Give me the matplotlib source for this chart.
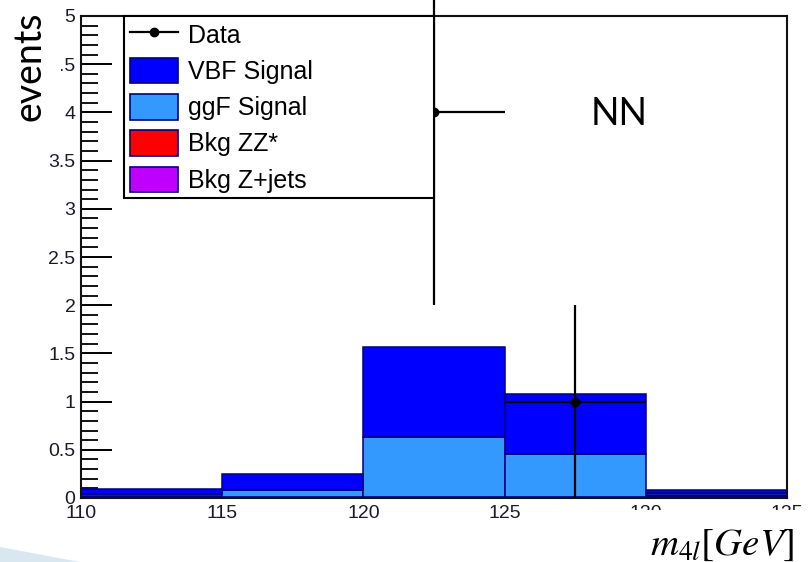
import matplotlib
matplotlib.use("Agg")
import matplotlib.pyplot as plt
from matplotlib.patches import Patch, Polygon, Rectangle
from matplotlib.lines import Line2D
from matplotlib.ticker import MultipleLocator

plt.rcParams["mathtext.fontset"] = "stix"

# Histogram binning (GeV)
bin_edges = [110, 115, 120, 125, 130, 135]
bin_left = bin_edges[:-1]

# Expected yields per bin (stack order bottom -> top)
bkg_zz = [0.01, 0.005, 0.005, 0.005, 0.025]
bkg_zjets = [0.01, 0.005, 0.005, 0.005, 0.005]
ggf_signal = [0.02, 0.07, 0.625, 0.45, 0.02]
vbf_signal = [0.05, 0.17, 0.935, 0.62, 0.03]

# Observed data
data_x = [122.5, 127.5]
data_y = [4, 1]
data_yerr = [2, 1]
data_xerr = [2.5, 2.5]

y_ticks = [0, 0.5, 1, 1.5, 2, 2.5, 3, 3.5, 4, 4.5, 5]
x_ticks = [110, 115, 120, 125, 130, 135]

W, H = 808, 562
fig = plt.figure(figsize=(W / 100, H / 100), dpi=100)
fig.patch.set_facecolor("white")
ax = fig.add_axes([81 / W, 1 - 498 / H, 706 / W, 482 / H])

edge = "#000080"
stack = [
    (bkg_zz, "#ff0000"),
    (bkg_zjets, "#c000ff"),
    (ggf_signal, "#3399ff"),
    (vbf_signal, "#0000ff"),
]
bottom = [0.0] * len(bin_left)
for vals, col in stack:
    ax.bar(bin_left, vals, width=5, bottom=bottom, align="edge",
           color=col, edgecolor=edge, linewidth=1.1, zorder=2)
    bottom = [b + v for b, v in zip(bottom, vals)]

ax.axhline(0, color=edge, lw=2.5, zorder=3)

ax.errorbar(data_x, data_y, yerr=data_yerr, xerr=data_xerr, fmt="o",
            color="black", ms=6, elinewidth=1.6, capsize=0, zorder=5,
            clip_on=False)

ax.set_xlim(110, 135)
ax.set_ylim(0, 5)
ax.set_xticks(x_ticks)
ax.set_yticks(y_ticks)
ax.set_yticklabels([f"{t:g}" for t in y_ticks])
ax.yaxis.set_minor_locator(MultipleLocator(0.1))
ax.tick_params(axis="y", which="major", direction="in", length=22, width=1.4,
               labelsize=14, pad=4)
ax.tick_params(axis="y", which="minor", direction="in", length=12, width=1.3)
ax.tick_params(axis="x", which="both", length=0, labelsize=14, pad=5)
for lab in ax.get_xticklabels() + ax.get_yticklabels():
    lab.set_fontfamily("Liberation Sans")
    lab.set_color("#1a1a2a")
for sp in ax.spines.values():
    sp.set_linewidth(1.5)
    sp.set_color("#111111")

handles = [
    Line2D([0], [0], color="black", marker="o", ms=6, lw=1.6),
    Patch(facecolor="#0000ff", edgecolor=edge, lw=1.2),
    Patch(facecolor="#3399ff", edgecolor=edge, lw=1.2),
    Patch(facecolor="#ff0000", edgecolor=edge, lw=1.2),
    Patch(facecolor="#c000ff", edgecolor=edge, lw=1.2),
]
labels = ["Data", "VBF Signal", "ggF Signal", "Bkg ZZ*", "Bkg Z+jets"]
leg = ax.legend(handles, labels, loc="upper left",
                bbox_to_anchor=(43 / 706, 0.622, 310 / 706, 0.378),
                mode="expand", borderaxespad=0, fancybox=False,
                prop={"family": "Liberation Sans", "size": 18},
                handlelength=1.95, handleheight=1.2, handletextpad=0.4,
                labelspacing=0.4, borderpad=0.22, framealpha=1)
leg.get_frame().set_edgecolor("black")
leg.get_frame().set_linewidth(1.5)
leg.set_zorder(10)

# Slide annotations
fig.text(30 / W, 1 - 66 / H, "events", rotation=90, ha="center", va="center",
         fontsize=27, family="Lato", color="black",
         bbox=dict(facecolor="white", edgecolor="none", boxstyle="square,pad=0.35"),
         zorder=20)
fig.text(619 / W, 1 - 114 / H, "NN", ha="center", va="center",
         fontsize=27, family="Lato", color="black")
fig.patches.append(Rectangle((630 / W, 0), 1 - 630 / W, 1 - 510 / H,
                             transform=fig.transFigure, facecolor="white",
                             edgecolor="none", zorder=15))
fig.text(722 / W, 1 - 544 / H, r"$m_{4l}[GeV]$", ha="center", va="center",
         fontsize=28, color="black", zorder=20)
fig.patches.append(Polygon([(0, 1 - 547 / H), (80 / W, 0), (0, 0)],
                           closed=True, transform=fig.transFigure,
                           facecolor="#d9e8f0", edgecolor="none", zorder=16))

fig.savefig("out.png", dpi=100)
